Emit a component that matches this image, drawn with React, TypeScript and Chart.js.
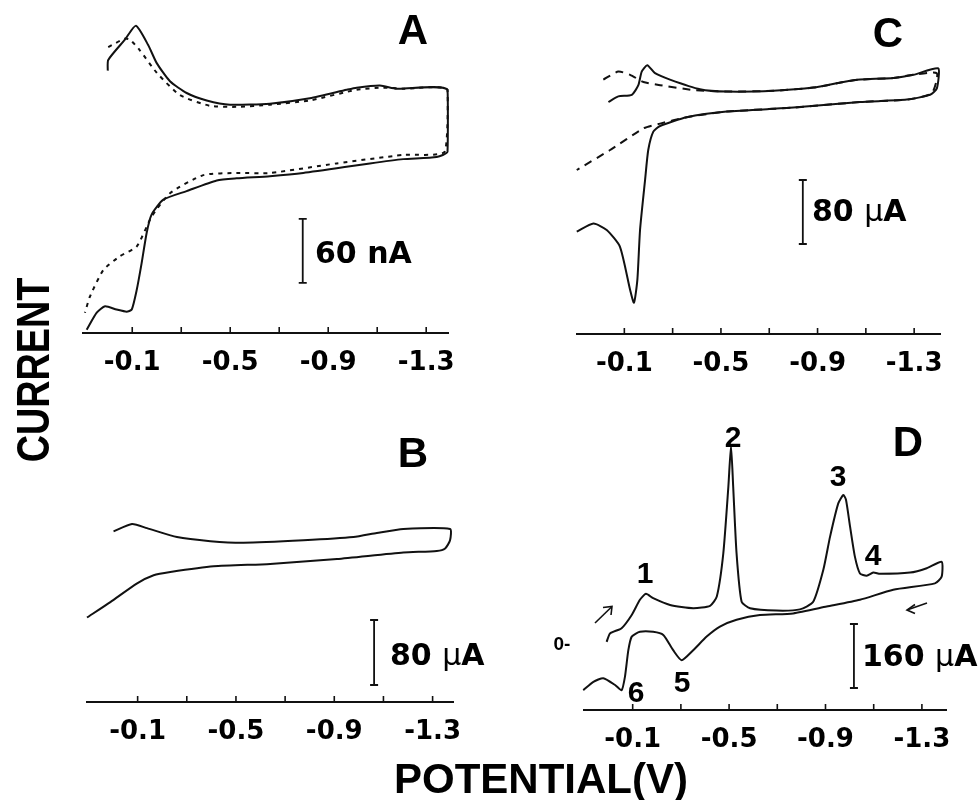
import React, { useEffect, useRef } from 'react';
import { Chart, registerables } from 'chart.js';

Chart.register(...registerables);

// ---- shared axis ticks (potential, V) ----
const TICK_VALUES = [-0.1, -0.3, -0.5, -0.7, -0.9, -1.1, -1.3];
const TICK_LABELS = ['-0.1', '', '-0.5', '', '-0.9', '', '-1.3'];

// ---- Panel A (current in nA, relative to the axis line) ----
const A_SOLID_V = [0.0, -0.002, -0.07, -0.115, -0.165, -0.2, -0.254, -0.322, -0.404, -0.499, -0.662, -0.825, -0.975, -1.016, -1.111, -1.179, -1.387, -1.387, -1.343, -1.206, -1.07, -0.798, -0.662, -0.526, -0.445, -0.322, -0.227, -0.179, -0.159, -0.138, -0.118, -0.098, -0.077, -0.036, 0.011, 0.045, 0.086];
const A_SOLID_I = [246, 256, 275, 288, 270, 253, 236, 225, 218, 214, 215, 220, 228, 230, 232, 229, 228, 170, 165, 163, 159, 150, 147, 145, 143, 133, 125, 111, 94, 65, 40, 22, 20, 22, 25, 19, 3];
const A_DASH_V = [-0.002, -0.07, -0.091, -0.131, -0.2, -0.295, -0.417, -0.526, -0.662, -0.825, -1.016, -1.125, -1.206, -1.387, -1.376, -1.206, -0.934, -0.662, -0.526, -0.39, -0.254, -0.179, -0.118, -0.05, 0.018, 0.073, 0.093];
const A_DASH_I = [268, 276, 275, 265, 244, 223, 213, 212, 214, 218, 228, 230, 229, 228, 170, 167, 159, 150, 150, 148, 131, 109, 81, 72, 59, 34, 19];
const A_BAR = 60;

// ---- Panel B (current in µA, relative to the axis line) ----
const B_SOLID_V = [-0.002, -0.077, -0.138, -0.26, -0.396, -0.531, -0.775, -0.978, -1.073, -1.181, -1.371, -1.371, -1.351, -1.317, -1.181, -0.911, -0.639, -0.409, -0.233, -0.165, -0.098, 0.011, 0.106];
const B_SOLID_I = [210, 219, 214, 203, 198, 196, 199, 203, 208, 213, 213, 199, 189, 186, 184, 176, 170, 167, 160, 156, 146, 123, 104];
const B_BAR = 80;

// ---- Panel C (current in µA, relative to the axis line) ----
const C_SOLID_V = [-0.034, -0.075, -0.131, -0.158, -0.172, -0.195, -0.227, -0.289, -0.413, -0.524, -0.717, -0.883, -1.007, -1.076, -1.214, -1.297, -1.4, -1.394, -1.366, -1.269, -1.076, -0.8, -0.524, -0.358, -0.248, -0.22, -0.199, -0.186, -0.165, -0.154, -0.14, -0.124, -0.082, -0.027, 0.028, 0.097];
const C_SOLID_I = [290, 297, 299, 311, 328, 336, 326, 318, 306, 303, 304, 308, 315, 318, 320, 324, 332, 307, 299, 293, 290, 283, 278, 271, 260, 253, 230, 193, 130, 68, 39, 55, 109, 130, 138, 128];
const C_DASH_V = [-0.013, -0.075, -0.124, -0.179, -0.248, -0.386, -0.524, -0.717, -0.883, -1.007, -1.076, -1.214, -1.297, -1.394, -1.373, -1.269, -1.076, -0.8, -0.524, -0.358, -0.248, -0.179, -0.041, 0.097];
const C_DASH_I = [318, 328, 324, 315, 311, 305, 303, 304, 308, 315, 318, 320, 324, 326, 301, 293, 290, 283, 278, 271, 263, 257, 230, 205];
const C_BAR = 80;

// ---- Panel D (current in µA, zero at the "0-" mark) ----
const D_SOLID_V = [0.008, -0.006, -0.054, -0.096, -0.13, -0.155, -0.185, -0.255, -0.351, -0.421, -0.449, -0.476, -0.497, -0.508, -0.517, -0.531, -0.552, -0.587, -0.697, -0.794, -0.849, -0.891, -0.919, -0.953, -0.974, -0.985, -1.002, -1.022, -1.043, -1.071, -1.098, -1.126, -1.251, -1.32, -1.382, -1.382, -1.354, -1.181, -1.043, -0.905, -0.766, -0.628, -0.531, -0.462, -0.407, -0.351, -0.303, -0.268, -0.227, -0.185, -0.13, -0.096, -0.082, -0.068, -0.054, -0.027, 0.022, 0.063, 0.105];
const D_SOLID_I = [3, 24, 37, 70, 108, 123, 112, 95, 87, 93, 116, 224, 391, 493, 391, 224, 103, 87, 81, 84, 103, 183, 266, 349, 370, 358, 291, 216, 174, 168, 176, 173, 176, 187, 203, 166, 149, 133, 108, 91, 74, 70, 58, 41, 16, -18, -43, -18, 20, 28, 28, 16, -18, -84, -118, -105, -88, -97, -118];
const D_BAR = 160;

const PADX = 36;
const AXH = 60;

type Series = { v: number[]; i: number[]; dash: number[] };
type Panel = {
  key: string;
  left: number;
  right: number;
  top: number;
  axisY: number;
  xMin: number;
  xMax: number;
  yMin: number;
  yMax: number;
  series: Series[];
  bar: { v: number; i0: number; len: number };
};

const PANELS: Panel[] = [
  {
    key: 'A', left: 83, right: 448, top: 10, axisY: 333,
    xMin: -1.389, xMax: 0.101, yMin: 0, yMax: 302.8,
    series: [
      { v: A_SOLID_V, i: A_SOLID_I, dash: [] },
      { v: A_DASH_V, i: A_DASH_I, dash: [4, 5] },
    ],
    bar: { v: -0.796, i0: 46.9, len: A_BAR },
  },
  {
    key: 'C', left: 577, right: 940, top: 10, axisY: 334,
    xMin: -1.407, xMax: 0.096, yMin: 0, yMax: 405,
    series: [
      { v: C_SOLID_V, i: C_SOLID_I, dash: [] },
      { v: C_DASH_V, i: C_DASH_I, dash: [8, 6] },
    ],
    bar: { v: -0.839, i0: 112.5, len: C_BAR },
  },
  {
    key: 'B', left: 87, right: 453, top: 420, axisY: 702,
    xMin: -1.383, xMax: 0.106, yMin: 0, yMax: 347.1,
    series: [{ v: B_SOLID_V, i: B_SOLID_I, dash: [] }],
    bar: { v: -1.062, i0: 20.9, len: B_BAR },
  },
  {
    key: 'D', left: 584, right: 946, top: 420, axisY: 710,
    xMin: -1.4, xMax: 0.102, yMin: -167.5, yMax: 557.5,
    series: [{ v: D_SOLID_V, i: D_SOLID_I, dash: [] }],
    bar: { v: -1.018, i0: -112.5, len: D_BAR },
  },
];

const toPoints = (v: number[], i: number[]) => v.map((x, k) => ({ x, y: i[k] }));

function PanelChart({ p }: { p: Panel }) {
  const ref = useRef<HTMLCanvasElement | null>(null);
  const w = p.right - p.left + 2 * PADX;
  const h = p.axisY - p.top + AXH;

  useEffect(() => {
    if (!ref.current) return;
    const tickMarks = {
      id: 'tickMarks',
      afterDraw(chart: any) {
        const s = chart.scales.x;
        const ctx = chart.ctx;
        const bottom = chart.chartArea.bottom;
        ctx.save();
        ctx.strokeStyle = '#111';
        ctx.lineWidth = 1.6;
        for (const t of s.ticks) {
          const x = s.getPixelForValue(t.value);
          ctx.beginPath();
          ctx.moveTo(x, bottom);
          ctx.lineTo(x, bottom - 6);
          ctx.stroke();
        }
        ctx.restore();
      },
    };
    const scaleBar = {
      id: 'scaleBar',
      afterDraw(chart: any) {
        const xs = chart.scales.x;
        const ys = chart.scales.y;
        const ctx = chart.ctx;
        const x = xs.getPixelForValue(p.bar.v);
        const y1 = ys.getPixelForValue(p.bar.i0);
        const y2 = ys.getPixelForValue(p.bar.i0 + p.bar.len);
        ctx.save();
        ctx.strokeStyle = '#111';
        ctx.lineWidth = 1.8;
        ctx.beginPath();
        ctx.moveTo(x, y1);
        ctx.lineTo(x, y2);
        ctx.moveTo(x - 4, y1);
        ctx.lineTo(x + 4, y1);
        ctx.moveTo(x - 4, y2);
        ctx.lineTo(x + 4, y2);
        ctx.stroke();
        ctx.restore();
      },
    };
    const chart = new Chart(ref.current, {
      type: 'scatter',
      data: {
        datasets: p.series.map((s) => ({
          data: toPoints(s.v, s.i),
          showLine: true,
          borderColor: '#111',
          borderWidth: 2,
          borderDash: s.dash,
          pointRadius: 0,
          tension: 0.2,
          fill: false,
          clip: false,
        })),
      },
      options: {
        responsive: false,
        animation: false,
        events: [],
        layout: { padding: { left: PADX, right: PADX, top: 0, bottom: 0 } },
        plugins: {
          legend: { display: false },
          tooltip: { enabled: false },
          title: { display: false },
        },
        scales: {
          x: {
            type: 'linear',
            min: p.xMin,
            max: p.xMax,
            reverse: true,
            grid: { display: false, drawTicks: false },
            border: { display: true, color: '#111', width: 2 },
            ticks: {
              autoSkip: false,
              maxRotation: 0,
              padding: 15,
              color: '#000',
              font: { family: '"DejaVu Sans", sans-serif', size: 26, weight: 'bold' },
              callback: (value: any) => {
                const k = TICK_VALUES.findIndex((t) => Math.abs(t - Number(value)) < 1e-6);
                return k >= 0 ? TICK_LABELS[k] : '';
              },
            },
            afterBuildTicks: (s: any) => {
              s.ticks = TICK_VALUES.map((value) => ({ value }));
            },
            afterFit: (s: any) => {
              s.paddingLeft = 0;
              s.paddingRight = 0;
              s.height = AXH;
            },
          },
          y: { type: 'linear', display: false, min: p.yMin, max: p.yMax },
        },
      } as any,
      plugins: [tickMarks, scaleBar],
    });
    return () => chart.destroy();
  }, []);

  return (
    <canvas
      ref={ref}
      width={w}
      height={h}
      style={{ position: 'absolute', left: p.left - PADX, top: p.top, width: w, height: h }}
    />
  );
}

const LBL: React.CSSProperties = {
  position: 'absolute',
  fontFamily: '"Liberation Sans", Arial, sans-serif',
  fontWeight: 'bold',
  color: '#000',
  lineHeight: 1,
  whiteSpace: 'nowrap',
  transform: 'translate(-50%, -50%)',
};

const BAR_LBL: React.CSSProperties = {
  position: 'absolute',
  fontFamily: '"DejaVu Sans", sans-serif',
  fontWeight: 'bold',
  fontSize: 30,
  color: '#000',
  lineHeight: 1,
  whiteSpace: 'nowrap',
  transform: 'translateY(-50%)',
};

const MU: React.CSSProperties = { fontWeight: 'normal' };

export default function App() {
  return (
    <div
      style={{
        position: 'absolute',
        left: 0,
        top: 0,
        width: 978,
        height: 800,
        background: '#fff',
        overflow: 'hidden',
      }}
    >
      {PANELS.map((p) => (
        <PanelChart key={p.key} p={p} />
      ))}

      {/* panel letters */}
      <div style={{ ...LBL, left: 413, top: 30, fontSize: 42 }}>A</div>
      <div style={{ ...LBL, left: 888, top: 33, fontSize: 42 }}>C</div>
      <div style={{ ...LBL, left: 413, top: 453, fontSize: 42 }}>B</div>
      <div style={{ ...LBL, left: 908, top: 442, fontSize: 42 }}>D</div>

      {/* scale bar labels */}
      <div style={{ ...BAR_LBL, left: 315, top: 253 }}>60 nA</div>
      <div style={{ ...BAR_LBL, left: 812, top: 211 }}>
        80 <span style={MU}>μ</span>A
      </div>
      <div style={{ ...BAR_LBL, left: 390, top: 655 }}>
        80 <span style={MU}>μ</span>A
      </div>
      <div style={{ ...BAR_LBL, left: 862, top: 656 }}>
        160 <span style={MU}>μ</span>A
      </div>

      {/* peak numbers in D */}
      <div style={{ ...LBL, left: 645, top: 573, fontSize: 30 }}>1</div>
      <div style={{ ...LBL, left: 733, top: 437, fontSize: 30 }}>2</div>
      <div style={{ ...LBL, left: 838, top: 476, fontSize: 30 }}>3</div>
      <div style={{ ...LBL, left: 873, top: 555, fontSize: 30 }}>4</div>
      <div style={{ ...LBL, left: 682, top: 682, fontSize: 30 }}>5</div>
      <div style={{ ...LBL, left: 636, top: 692, fontSize: 30 }}>6</div>
      <div style={{ ...LBL, left: 562, top: 643, fontSize: 19 }}>0-</div>

      {/* scan direction arrows in D */}
      <svg
        width={978}
        height={800}
        style={{ position: 'absolute', left: 0, top: 0, pointerEvents: 'none' }}
      >
        <g stroke="#111" strokeWidth={1.6} fill="none">
          <line x1={595} y1={623} x2={611.5} y2={607} />
          <polyline points="603,607.5 612,606.5 611,615" />
          <line x1={927} y1={603} x2={907} y2={610} />
          <polyline points="915,604.5 907,610 915,613.5" />
        </g>
      </svg>

      {/* axis titles */}
      <div
        style={{
          ...LBL,
          left: 33,
          top: 370,
          fontSize: 46,
          transform: 'translate(-50%, -50%) rotate(-90deg) scaleX(0.82)',
        }}
      >
        CURRENT
      </div>
      <div style={{ ...LBL, left: 541, top: 779, fontSize: 42 }}>POTENTIAL(V)</div>
    </div>
  );
}
